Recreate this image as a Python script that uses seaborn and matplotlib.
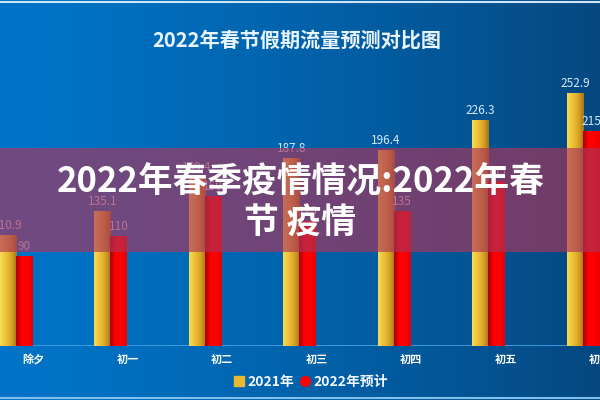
import numpy as np
import pandas as pd
import matplotlib
matplotlib.use('Agg')
import matplotlib.pyplot as plt
from matplotlib.colors import LinearSegmentedColormap
from matplotlib.lines import Line2D
from matplotlib.patches import Rectangle
import seaborn as sns

# data (hidden values under the band are estimates)
days = ['除夕', '初一', '初二', '初三', '初四', '初五', '初六']
flow_2021 = [110.9, 135.1, 169.4, 187.8, 196.4, 226.3, 252.9]
flow_2022 = [90, 110, 150, 125, 135, 165, 215]
series_names = ['2021年', '2022年预计']

title = '2022年春节假期流量预测对比图'
overlay_line1 = '2022年春季疫情情况:2022年春'
overlay_line2 = '节 疫情'

sns.set_style('white')
plt.rcParams['font.family'] = ['Noto Sans CJK SC', 'DejaVu Sans']

df = pd.DataFrame({
    'day': days * 2,
    'flow': flow_2021 + flow_2022,
    'series': [series_names[0]] * len(days) + [series_names[1]] * len(days),
})

fig = plt.figure(figsize=(6, 4), dpi=100)

# blue gradient background
bg = fig.add_axes([0, 0, 1, 1], zorder=-10)
X, Y = np.meshgrid(np.linspace(0, 1, 300), np.linspace(0, 1, 200))
t = np.clip(X ** 1.3, 0, 1)
c_left = np.array([0, 116, 200]) / 255
c_right = np.array([5, 72, 128]) / 255
bg.imshow(c_left + (c_right - c_left) * t[..., None], aspect='auto', extent=(0, 1, 0, 1))
bg.axis('off')

# main bar chart
ax = fig.add_axes([0, 54 / 400, 1, 300 / 400])
ax.set_facecolor('none')
sns.barplot(data=df, x='day', y='flow', hue='series', palette=['#e8b830', '#ff0000'],
            width=0.34, gap=0, saturation=1, linewidth=0, legend=False, ax=ax)

# cylinder-ish shading on the bars
gold_cmap = LinearSegmentedColormap.from_list('gold', ['#f7dc52', '#eec23a', '#d9a526', '#a87416'])
red_cmap = LinearSegmentedColormap.from_list('red', ['#a80000', '#ff0000', '#ff0000', '#e80000'])
grad = np.linspace(0, 1, 64).reshape(1, -1)
for cont, cmap in zip(ax.containers, [gold_cmap, red_cmap]):
    for bar in cont:
        x0, w, h = bar.get_x(), bar.get_width(), bar.get_height()
        im = ax.imshow(grad, cmap=cmap, aspect='auto', extent=(x0, x0 + w, 0, h),
                       zorder=bar.get_zorder() + 0.1)
        im.set_clip_path(bar)

for cont, vals in zip(ax.containers, [flow_2021, flow_2022]):
    ax.bar_label(cont, labels=[f'{v:g}' for v in vals], padding=2,
                 color='#d6ebff', fontsize=8.5)

ax.set_xlim(-16 / 94.5, 584 / 94.5)
ax.set_ylim(0, 300)
ax.set_xticks(np.arange(len(days)) + 0.18, days)
ax.tick_params(axis='x', length=0, pad=5, labelcolor='white', labelsize=8)
for lbl in ax.get_xticklabels():
    lbl.set_fontweight('bold')
ax.set_yticks([])
ax.set_xlabel('')
ax.set_ylabel('')
sns.despine(ax=ax, left=True, bottom=True)
ax.axhline(0, color='#45a3e6', lw=1.2, zorder=0.5)

# title
fig.text(0.495, 1 - 40 / 400, title, ha='center', va='center',
         color='#e8f4ff', fontsize=14.5, fontweight='semibold')

# legend
handles = [
    Line2D([], [], marker='s', ls='', color='#e8b830', markersize=6.5),
    Line2D([], [], marker='o', ls='', color='#ff0000', markersize=7),
]
leg = fig.legend(handles, series_names, loc='center', bbox_to_anchor=(0.518, 0.045),
                 ncol=2, frameon=False, handletextpad=0.2, columnspacing=0.4,
                 handlelength=0.8, prop={'size': 10, 'weight': 'bold'})
for txt in leg.get_texts():
    txt.set_color('#f2f8ff')

# translucent purple band with the headline over it
fig.add_artist(Rectangle((0, 148 / 400), 1, 104 / 400, transform=fig.transFigure,
                         facecolor='#ab345b', alpha=0.655, lw=0, zorder=5))
fig.text(0.502, 1 - 182 / 400, overlay_line1, ha='center', va='center',
         color='white', fontsize=25, fontweight='bold', zorder=6)
fig.text(0.5, 1 - 223 / 400, overlay_line2, ha='center', va='center',
         color='white', fontsize=25, fontweight='bold', zorder=6)

# thin light frame lines at top and bottom
fig.add_artist(Line2D([0, 1], [0.996, 0.996], transform=fig.transFigure, color='#cfe6f6', lw=1.5))
fig.add_artist(Line2D([0, 1], [0.004, 0.004], transform=fig.transFigure, color='#7fc0ec', lw=1.5))

fig.savefig('out.png', dpi=100)
